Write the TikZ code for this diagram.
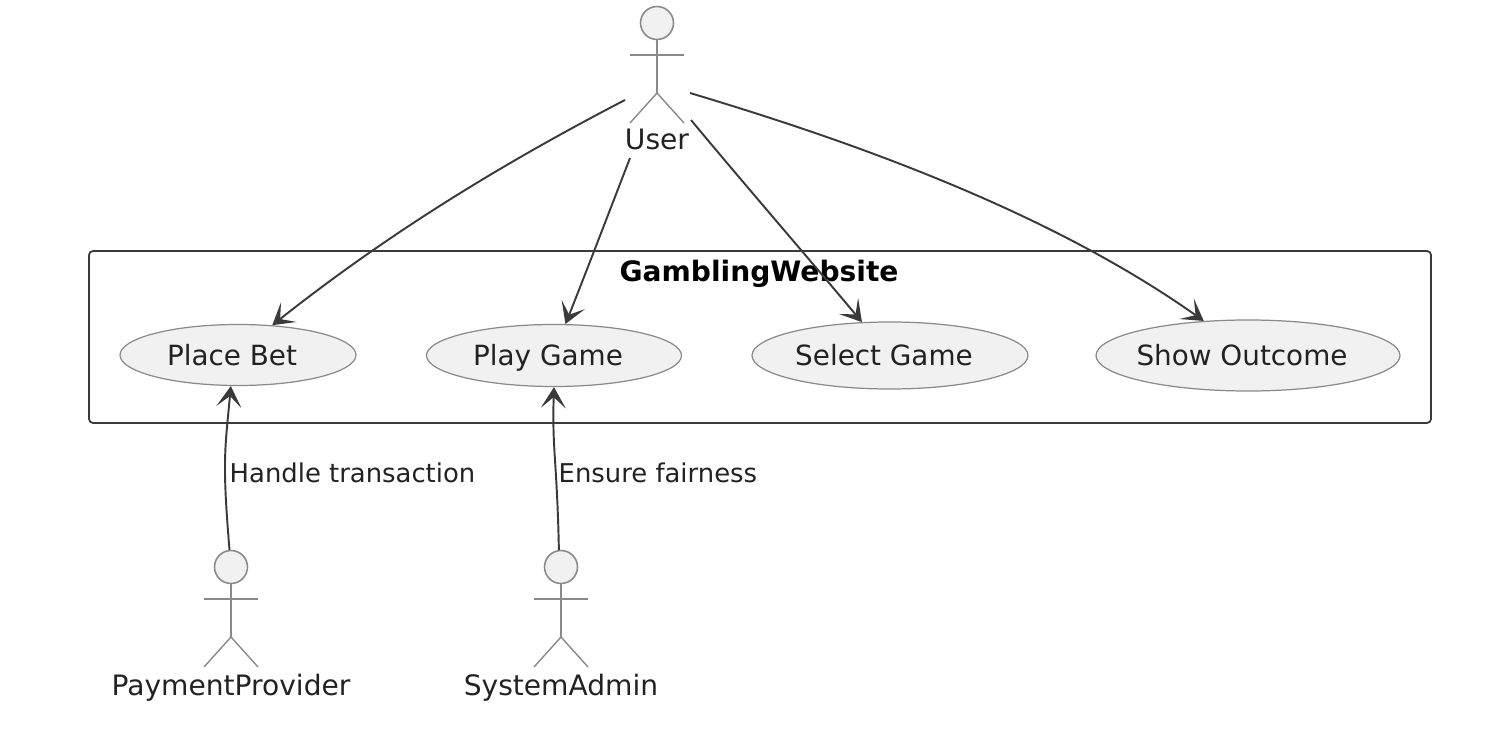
\documentclass[tikz,border=0pt]{standalone}
\usepackage{fontspec}
\setmainfont{DejaVu Sans}
\usetikzlibrary{arrows.meta,shapes.geometric}
\definecolor{actorline}{HTML}{8A8A8A}
\definecolor{actorfill}{HTML}{F1F1F1}
\definecolor{inkline}{HTML}{3A3A3A}
\definecolor{inktext}{HTML}{222222}
\tikzset{
  actorlimb/.style={draw=actorline, line width=0.4pt},
  actorhead/.style={circle, draw=actorline, fill=actorfill, line width=0.45pt, minimum size=0.33cm, inner sep=0pt},
  usecase/.style={ellipse, draw=actorline, fill=actorfill, line width=0.35pt, inner sep=0pt, text=inktext, font=\fontsize{7.92pt}{10pt}\selectfont, text height=0.21cm, text depth=0pt, execute at begin node={\kern-0.12cm}},
  actorlabel/.style={anchor=base, inner sep=0pt, text=inktext, font=\fontsize{8pt}{10pt}\selectfont},
  linklabel/.style={anchor=base west, inner sep=0pt, text=inktext, font=\fontsize{7.36pt}{10pt}\selectfont},
  link/.style={draw=inkline, line width=0.55pt, -{Stealth[length=0.21cm,width=0.25cm,inset=0.11cm]}},
}
\begin{document}
\begin{tikzpicture}

        \useasboundingbox (0,0) rectangle (14.98,7.30);

        %Package
        \node (website) [draw=inkline, line width=0.5pt, rounded corners=0.04cm, minimum width=13.42cm, minimum height=1.72cm, inner sep=0pt] at (7.60,3.93) {};
        \node (websitetitle) [anchor=base, inner sep=0pt, text=black, font=\fontsize{8pt}{10pt}\selectfont\bfseries] at (7.59,4.48) {GamblingWebsite};

        %Use cases
        \node (placebet) [usecase, minimum width=2.36cm, minimum height=0.61cm] at (2.38,3.75) {Place Bet};
        \node (playgame) [usecase, minimum width=2.55cm, minimum height=0.62cm] at (5.54,3.745) {Play Game};
        \node (selectgame) [usecase, minimum width=2.76cm, minimum height=0.67cm] at (8.90,3.745) {Select Game};
        \node (showoutcome) [usecase, minimum width=3.04cm, minimum height=0.71cm] at (12.48,3.745) {Show Outcome};

        %User
        \node (userhead) [actorhead] at (6.57,7.07) {};
        \coordinate (userhip) at (6.57,6.37);
        \draw [actorlimb] (userhead) -- (userhip);
        \draw [actorlimb] (6.30,6.75) -- (6.84,6.75);
        \draw [actorlimb] (6.30,6.07) -- (userhip) -- (6.84,6.07);
        \node (userlabel) [actorlabel] at (6.57,5.80) {User};

        %Payment provider
        \node (paymenthead) [actorhead] at (2.31,1.63) {};
        \coordinate (paymenthip) at (2.31,0.93);
        \draw [actorlimb] (paymenthead) -- (paymenthip);
        \draw [actorlimb] (2.04,1.31) -- (2.58,1.31);
        \draw [actorlimb] (2.04,0.63) -- (paymenthip) -- (2.58,0.63);
        \node (paymentlabel) [actorlabel] at (2.31,0.35) {PaymentProvider};

        %System admin
        \node (adminhead) [actorhead] at (5.61,1.63) {};
        \coordinate (adminhip) at (5.61,0.93);
        \draw [actorlimb] (adminhead) -- (adminhip);
        \draw [actorlimb] (5.34,1.31) -- (5.88,1.31);
        \draw [actorlimb] (5.34,0.63) -- (adminhip) -- (5.88,0.63);
        \node (adminlabel) [actorlabel] at (5.61,0.35) {SystemAdmin};

        %Links from user
        \coordinate (userleft) at (6.25,6.30);
        \coordinate (userbelow) at (6.30,5.72);
        \coordinate (userright) at (6.91,6.10);
        \coordinate (userfar) at (6.90,6.37);
        \draw [link] (userleft) .. controls (4.90,5.60) and (3.80,4.90) .. (placebet.41);
        \draw [link] (userbelow) .. controls (6.08,5.15) and (5.85,4.55) .. (playgame.70);
        \draw [link] (userright) .. controls (7.45,5.45) and (8.10,4.70) .. (selectgame.130);
        \draw [link] (userfar) .. controls (8.30,5.95) and (10.40,5.25) .. (showoutcome.142);

        %Links from below
        \draw [link] (paymenthead.95) .. controls (2.22,2.70) and (2.25,2.80) .. (placebet.257);
        \draw [link] (adminhead.97) .. controls (5.57,2.70) and (5.52,2.80) .. (playgame.south);
        \node (handlelabel) [linklabel] at (2.29,2.48) {Handle transaction};
        \node (ensurelabel) [linklabel] at (5.58,2.48) {Ensure fairness};

\end{tikzpicture}
\end{document}
